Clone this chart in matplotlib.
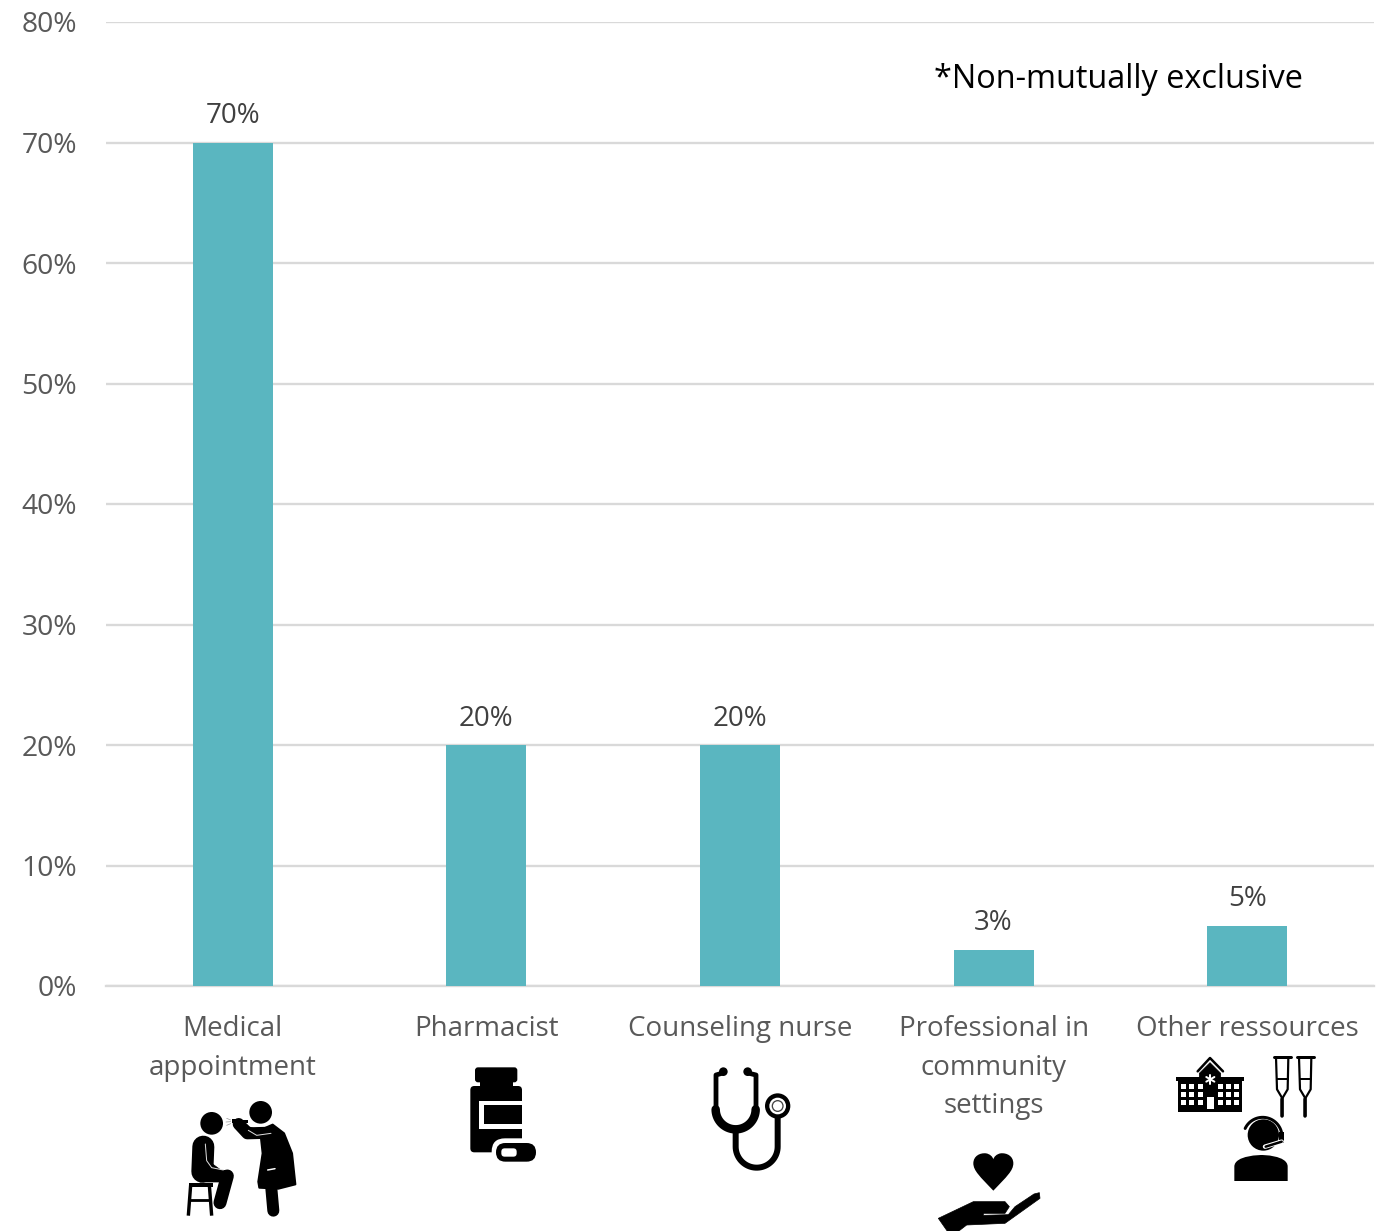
import matplotlib
matplotlib.use("Agg")
import matplotlib.pyplot as plt
import numpy as np
from matplotlib.patches import Circle, FancyBboxPatch, Polygon, Rectangle, PathPatch
from matplotlib.path import Path

categories = ["Medical\nappointment", "Pharmacist", "Counseling nurse",
              "Professional in\ncommunity\nsettings", "Other ressources"]
values = [70, 20, 20, 3, 5]
yticks = [0, 10, 20, 30, 40, 50, 60, 70, 80]
note = "*Non-mutually exclusive"

BAR = "#5AB6C0"
TXT = "#595959"
GRID = "#D9D9D9"

plt.rcParams["font.family"] = ["Open Sans", "DejaVu Sans"]

W, H = 1379, 1231
fig = plt.figure(figsize=(W / 100, H / 100), dpi=100)
ax = fig.add_axes([106 / W, 1 - 986 / H, (1374 - 106) / W, (986 - 22) / H])

x = np.arange(len(categories))
ax.bar(x, values, width=0.315, color=BAR, zorder=3)
ax.set_xlim(-0.5, 4.5)
ax.set_ylim(0, 80)
ax.set_yticks(yticks)
ax.set_yticklabels([f"{v}%" for v in yticks], fontsize=20.3, color=TXT)
ax.set_xticks(x)
ax.set_xticklabels(categories, fontsize=20, color=TXT, linespacing=1.5)
ax.tick_params(axis="y", length=0, pad=21)
ax.tick_params(axis="x", length=0, pad=21)
ax.grid(axis="y", color=GRID, linewidth=1.7, zorder=0)
ax.set_axisbelow(True)
for s in ["top", "right", "left"]:
    ax.spines[s].set_visible(False)
ax.spines["bottom"].set_color(GRID)
ax.spines["bottom"].set_linewidth(1.7)

for xi, v in zip(x, values):
    ax.annotate(f"{v}%", (xi, v), xytext=(0, 9), textcoords="offset points",
                ha="center", va="bottom", fontsize=20, color="#404040", zorder=4)

fig.text(1118 / W, 1 - 79.5 / H, note, ha="center", va="center", fontsize=23.4, color="black")

# icons, drawn on an overlay in pixel coordinates
ov = fig.add_axes([0, 0, 1, 1], facecolor="none")
ov.set_xlim(0, W)
ov.set_ylim(H, 0)
ov.axis("off")


def poly(pts, ox, oy, color="black", z=5, lw=0.5):
    p = [(ox + a / 3, oy + b / 3) for a, b in pts]
    ov.add_patch(Polygon(p, closed=True, fc=color, ec=color, lw=lw, joinstyle="round", zorder=z))


def line(pts, ox, oy, w, color="black", z=5, cap="round"):
    ov.plot([ox + a / 3 for a, b in pts], [oy + b / 3 for a, b in pts], color=color, lw=w * 0.72,
            solid_capstyle=cap, solid_joinstyle="round", zorder=z)


def circ(a, b, r, ox, oy, color="black", z=5):
    ov.add_patch(Circle((ox + a / 3, oy + b / 3), r / 3, fc=color, ec="none", zorder=z))


def rrect(a0, b0, a1, b1, r, ox, oy, color="black", z=5):
    ov.add_patch(FancyBboxPatch((ox + (a0 + r) / 3, oy + (b0 + r) / 3), (a1 - a0 - 2 * r) / 3, (b1 - b0 - 2 * r) / 3,
                                boxstyle=f"round,pad={r / 3},rounding_size={r / 3}",
                                fc=color, ec="none", zorder=z))


def rect(a0, b0, a1, b1, ox, oy, color="black", z=5):
    ov.add_patch(Rectangle((ox + a0 / 3, oy + b0 / 3), (a1 - a0) / 3, (b1 - b0) / 3, fc=color, ec="none", zorder=z))


# doctor and patient
ox, oy = 140, 1050
circ(215, 220, 34, ox, oy)
circ(362, 187, 34, ox, oy)
line([(190, 290), (187, 365)], ox, oy, 22)
line([(195, 378), (262, 378)], ox, oy, 12)
line([(262, 378), (240, 458)], ox, oy, 13)
poly([(160, 365), (215, 340), (245, 362), (240, 396), (180, 396)], ox, oy)
line([(196, 282), (200, 332), (215, 353), (250, 360)], ox, oy, 1, "#dddddd", 6)
rect(148, 400, 218, 412, ox, oy)
line([(152, 405), (145, 497)], ox, oy, 3.4, cap="butt")
line([(208, 405), (215, 497)], ox, oy, 3.4, cap="butt")
line([(146, 450), (214, 450)], ox, oy, 2.8, cap="butt")
poly([(350, 245), (398, 224), (432, 250), (456, 310), (466, 403), (415, 416), (358, 413), (355, 395),
      (368, 310), (362, 255)], ox, oy, lw=1.5)
line([(296, 222), (322, 250), (395, 248)], ox, oy, 12)
line([(305, 220), (325, 238), (345, 245)], ox, oy, 6)
line([(325, 241), (350, 256), (393, 250)], ox, oy, 1, "#dddddd", 6)
line([(383, 360), (405, 356)], ox, oy, 1.5, "white", 6)
line([(394, 415), (400, 482)], ox, oy, 12)
rect(275, 207, 290, 220, ox, oy)
rect(290, 209, 325, 218, ox, oy)
line([(260, 205), (272, 210)], ox, oy, 0.7, "#999999")
line([(258, 216), (272, 215)], ox, oy, 0.7, "#999999")
line([(260, 226), (272, 221)], ox, oy, 0.7, "#999999")

# pill bottle
rrect(1005, 52, 1132, 97, 9, ox, oy)
rect(1020, 95, 1118, 112, ox, oy)
rrect(991, 108, 1146, 307, 12, ox, oy)
rect(1018, 152, 1146, 238, ox, oy, "white", 6)
rect(1033, 166, 1146, 222, ox, oy, "black", 7)
rrect(1055, 265, 1200, 347, 40, ox, oy, "white", 8)
rrect(1068, 279, 1188, 335, 28, ox, oy, "black", 9)
rrect(1084, 295, 1130, 320, 10, ox, oy, "white", 10)

# stethoscope
ox, oy = 680, 1050
t = np.linspace(np.pi, 0, 40)
circ(130, 65, 13, ox, oy)
circ(203, 65, 13, ox, oy)
line([(125, 70), (108, 75), (108, 180)], ox, oy, 4.8)
line([(208, 70), (228, 75), (228, 180)], ox, oy, 4.8)
line([(167 + 60 * np.cos(a), 178 + 60 * np.sin(a)) for a in t], ox, oy, 8.5)
line([(167, 240), (167, 290)] + [(230 + 63 * np.cos(a), 290 + 63 * np.sin(a)) for a in t] + [(293, 200)], ox, oy, 6)
circ(293, 168, 38, ox, oy)
circ(293, 168, 25, ox, oy, "white", 6)
circ(293, 168, 18, ox, oy, "#444444", 7)
circ(293, 168, 14, ox, oy, "white", 8)

# heart and hand
verts = [(940, 422), (900, 380), (880, 362), (880, 340), (880, 318), (900, 308), (918, 310),
         (930, 312), (938, 320), (940, 328), (942, 320), (950, 312), (962, 310),
         (980, 308), (1000, 318), (1000, 340), (1000, 362), (980, 380), (940, 422), (940, 422)]
codes = [Path.MOVETO] + [Path.CURVE4] * 18 + [Path.CLOSEPOLY]
ov.add_patch(PathPatch(Path([(ox + a / 3, oy + b / 3) for a, b in verts], codes), fc="black", ec="none", zorder=5))
poly([(775, 505), (880, 455), (975, 455), (988, 470), (975, 490), (910, 490), (910, 496), (985, 494),
      (1005, 470), (1062, 432), (1078, 428), (1080, 445), (975, 520), (860, 525), (830, 548), (805, 548)], ox, oy)

# hospital, crutches, headset person
ox, oy = 1150, 1040
rect(85, 122, 275, 216, ox, oy)
rect(78, 112, 282, 122, ox, oy)
poly([(148, 115), (148, 100), (180, 68), (212, 100), (212, 115)], ox, oy)
line([(143, 94), (180, 54), (219, 94)], ox, oy, 2.5)
for wx in [93, 118, 143, 203, 228, 253]:
    for wy in [132, 156, 180]:
        rect(wx, wy, wx + 15, wy + 15, ox, oy, "white", 6)
rect(170, 170, 192, 207, ox, oy, "white", 6)
for a in [90, 150, 30]:
    c, s = np.cos(np.radians(a)), np.sin(np.radians(a))
    line([(181 - 14 * c, 118 - 14 * s), (181 + 14 * c, 118 + 14 * s)], ox, oy, 2, "white", 6)
for dx in [0, 69]:
    line([(371 + dx, 50), (423 + dx, 50)], ox, oy, 3)
    line([(378 + dx, 52), (381 + dx, 148), (397 + dx, 175), (397 + dx, 228)], ox, oy, 2.2)
    line([(415 + dx, 52), (413 + dx, 148), (397 + dx, 175)], ox, oy, 2.2)
    line([(380 + dx, 118), (414 + dx, 118)], ox, oy, 2)
    line([(397 + dx, 178), (397 + dx, 228)], ox, oy, 3.5)
circ(340, 285, 47, ox, oy)
sv = [(253, 423), (253, 380), (253, 345), (335, 345), (335, 345), (335, 345), (413, 345), (413, 380), (413, 423), (253, 423)]
sc = [Path.MOVETO, Path.LINETO, Path.CURVE4, Path.CURVE4, Path.CURVE4, Path.CURVE4, Path.CURVE4, Path.CURVE4, Path.LINETO, Path.CLOSEPOLY]
ov.add_patch(PathPatch(Path([(ox + a / 3, oy + b / 3) for a, b in sv], sc), fc="black", ec="none", zorder=5))
t = np.radians(np.linspace(205, 355, 30))
line([(338 + 58 * np.cos(a), 290 + 58 * np.sin(a)) for a in t], ox, oy, 3)
rect(388, 275, 403, 308, ox, oy)
line([(395, 305), (345, 320)], ox, oy, 4.5, "white", 6)
line([(395, 305), (347, 320)], ox, oy, 2.5, "black", 7)

fig.savefig("out.png", dpi=100)
